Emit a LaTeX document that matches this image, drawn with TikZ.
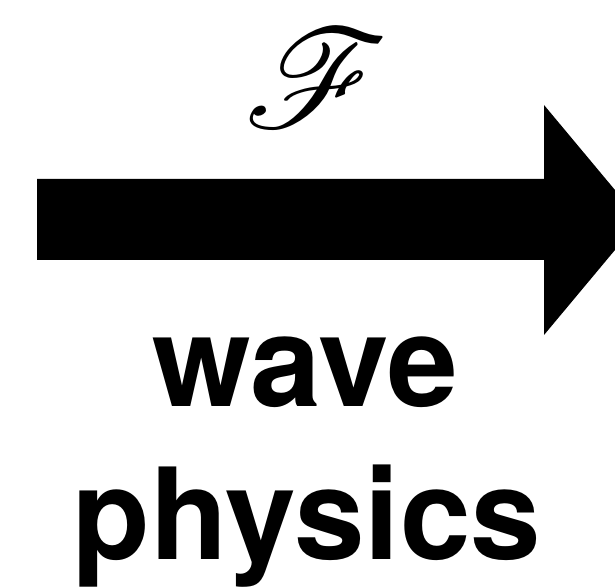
\documentclass[tikz,border=0pt]{standalone}
\usepackage{fontspec}
\usepackage{mathrsfs}
\setsansfont{TeX Gyre Heros}
\tikzset{
    label text/.style={font=\sffamily\bfseries\fontsize{127}{154}\selectfont, inner sep=0pt, anchor=base},
    map symbol/.style={inner sep=0pt}
}
\begin{document}
\begin{tikzpicture}[x=1pt, y=1pt]
    \useasboundingbox (0,0) rectangle (615,586);
    \clip (0,0) rectangle (615,586);

    % Operator
    \node[map symbol] (op) at (317,507) {\scalebox{14}{$\mathscr{F}$}};

    % Big arrow
    \fill[black] (37,326) -- (37,407) -- (544,407) -- (544,481)
        -- (640,366) -- (544,251) -- (544,326) -- cycle;

    % Labels
    \node[label text] (wave) at (305,179) {wave};
    \node[label text] (physics) at (307,27) {physics};
\end{tikzpicture}
\end{document}
